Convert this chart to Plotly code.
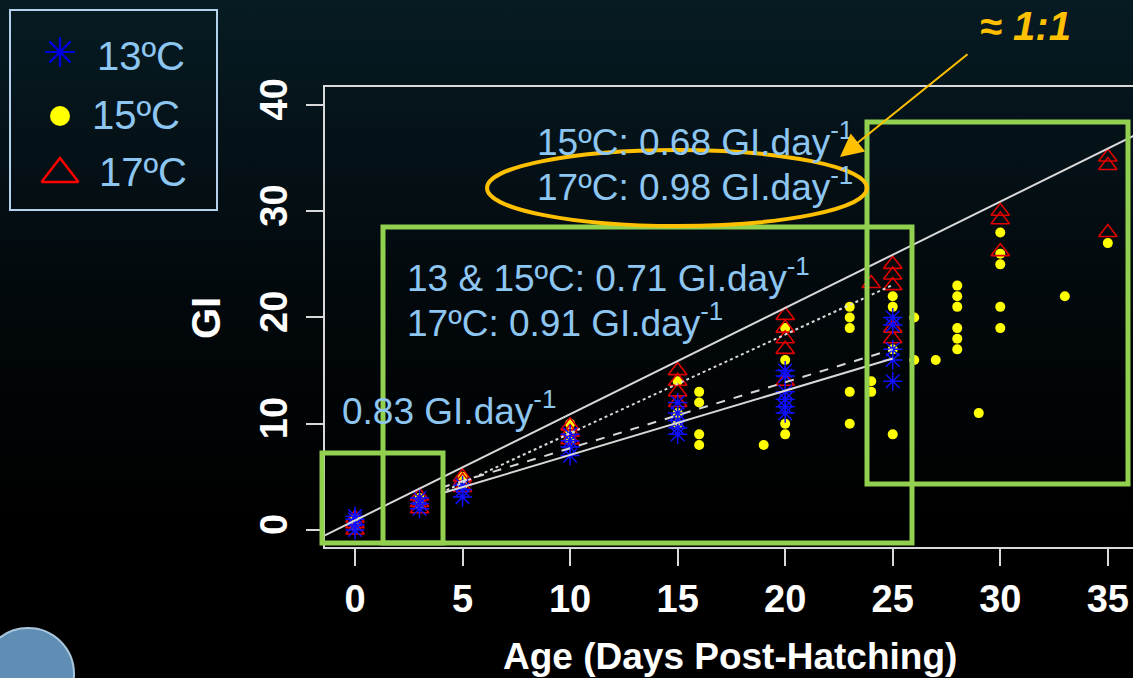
import base64
import plotly.graph_objects as go

W, H = 1133, 678

# ---------------- data ----------------
age_13 = [0, 0, 0, 0, 3, 3, 3, 5, 5, 5, 10, 10, 10, 10,
          15, 15, 15, 15, 15, 20, 20, 20, 20, 20, 20, 25, 25, 25, 25, 25]
gi_13 = [0.0, 0.5, 1.0, 1.3, 2.0, 2.5, 3.0, 3.1, 3.8, 4.2, 7.0, 7.8, 8.4, 9.0,
         9.0, 9.6, 10.3, 11.0, 12.0, 11.0, 11.6, 12.3, 13.0, 14.5, 15.0, 14.0, 16.0, 17.0, 19.3, 20.0]

age_15 = [0, 0, 3, 3, 5, 5, 10, 10, 10, 15, 15, 15, 16, 16, 16, 16, 19,
          20, 20, 20, 20, 23, 23, 23, 23, 23, 24, 24, 25, 25, 25, 25, 26, 26, 27,
          28, 28, 28, 28, 28, 28, 29, 30, 30, 30, 30, 30, 33, 35]
gi_15 = [0.4, 1.0, 2.4, 3.0, 4.2, 5.0, 8.5, 9.3, 10.0, 10.0, 11.0, 14.0, 8.0, 9.0, 12.0, 13.0, 8.0,
         9.0, 10.0, 16.0, 19.0, 10.0, 13.0, 19.0, 20.0, 21.0, 13.0, 14.0, 9.0, 17.0, 21.0, 22.0, 16.0, 20.0, 16.0,
         17.0, 18.0, 19.0, 21.0, 22.0, 23.0, 11.0, 19.0, 21.0, 25.0, 26.0, 28.0, 22.0, 27.0]

age_17 = [0, 0, 0, 3, 3, 3, 5, 5, 5, 10, 10, 10, 15, 15, 15, 15,
          20, 20, 20, 20, 20, 24, 25, 25, 25, 25, 25, 30, 30, 30, 35, 35, 35]
gi_17 = [0.0, 0.6, 1.1, 2.0, 2.6, 3.2, 4.0, 4.6, 5.0, 8.5, 9.2, 9.8, 12.0, 13.0, 14.0, 15.0,
         14.0, 17.0, 18.0, 19.0, 20.2, 23.2, 18.0, 19.0, 23.0, 24.0, 25.0, 26.2, 29.2, 30.0, 28.0, 34.3, 35.1]

# fitted growth lines (GI = intercept + slope * age)
fit_intercept = [0.9, -0.2, 1.5, 1.01]
fit_slope = [1.0, 0.93, 0.62, 0.605]
fit_age_from = [-1.4, 4, 4, 4]
fit_age_to = [36.4, 25, 25, 25]
fit_dash = ["solid", "dot", "dash", "solid"]

x_ticks = [0, 5, 10, 15, 20, 25, 30, 35]
y_ticks = [0, 10, 20, 30, 40]
legend_labels = ["13ºC", "15ºC", "17ºC"]

# ---------------- layout geometry (pixels) ----------------
PL, PR, PT, PB = 325, 1133, 87, 547
X_RANGE = [-1.395, 36.17]
Y_RANGE = [-1.6, 41.69]

BOLD = "Liberation Sans, Arial, sans-serif"
SANS = "Liberation Sans, Arial, sans-serif"
LBLUE = "#8ec6f2"
GREEN = "#92d050"
ORANGE = "#ffc000"
AXC = "#d9d9d9"

fig = go.Figure()

# data points
fig.add_trace(go.Scatter(x=age_15, y=gi_15, mode="markers", name="15ºC",
                         marker=dict(symbol="circle", size=10, color="#ffff00", line=dict(width=0)),
                         showlegend=False))
fig.add_trace(go.Scatter(x=age_17, y=gi_17, mode="markers", name="17ºC",
                         marker=dict(symbol="triangle-up-open", size=16, color="#e00000",
                                     line=dict(width=1.6, color="#e00000")),
                         showlegend=False))
fig.add_trace(go.Scatter(x=age_13, y=gi_13, mode="markers", name="13ºC",
                         marker=dict(symbol="asterisk-open", size=16, color="#1010ff",
                                     line=dict(width=1.5, color="#1010ff")),
                         showlegend=False))

# fitted lines
for a, b, x0, x1, d in zip(fit_intercept, fit_slope, fit_age_from, fit_age_to, fit_dash):
    xs = [x0, x1]
    ys = [a + b * v for v in xs]
    fig.add_trace(go.Scatter(x=xs, y=ys, mode="lines", showlegend=False,
                             line=dict(color="#d8d8d8", width=2, dash=d)))

# legend symbols on a full-figure pixel overlay axis
leg_x = [60, 60, 60]
leg_y = [52, 116, 174]
fig.add_trace(go.Scatter(x=[leg_x[0]], y=[leg_y[0]], xaxis="x2", yaxis="y2", mode="markers",
                         showlegend=False, cliponaxis=False,
                         marker=dict(symbol="asterisk-open", size=25, color="#0000e0",
                                     line=dict(width=2.2, color="#0000e0"))))
fig.add_trace(go.Scatter(x=[leg_x[1]], y=[leg_y[1]], xaxis="x2", yaxis="y2", mode="markers",
                         showlegend=False, cliponaxis=False,
                         marker=dict(symbol="circle", size=20, color="#ffff00")))
fig.add_trace(go.Scatter(x=[leg_x[2]], y=[leg_y[2]], xaxis="x2", yaxis="y2", mode="markers",
                         showlegend=False, cliponaxis=False,
                         marker=dict(symbol="triangle-up-open", size=32, color="#ff0000",
                                     line=dict(width=2.5, color="#ff0000"))))

shapes = []
# legend box
shapes.append(dict(type="rect", xref="x2", yref="y2", x0=10, y0=10, x1=217, y1=210,
                   line=dict(color="#b4d2ee", width=2)))
# green boxes
for x0, y0, x1, y1 in [(322, 453, 443, 543), (383, 227, 912, 543), (867, 122, 1128, 484)]:
    shapes.append(dict(type="rect", xref="x2", yref="y2", x0=x0, y0=y0, x1=x1, y1=y1,
                       line=dict(color=GREEN, width=5), layer="above"))
# orange ellipse
shapes.append(dict(type="circle", xref="x2", yref="y2", x0=487, y0=150, x1=867, y1=226,
                   line=dict(color=ORANGE, width=4)))
# globe logo (bottom-left)
shapes.append(dict(type="circle", xref="x2", yref="y2", x0=-18, y0=628, x1=74, y1=720,
                   fillcolor="#5f8db3", line=dict(color="#a9c6dc", width=2), layer="below"))

ann = []
def txt(x, y, s, size, color, family=SANS, xanchor="left", angle=0, weight="normal", style="normal"):
    ann.append(dict(x=x, y=y, xref="x2", yref="y2", text=s, showarrow=False,
                    xanchor=xanchor, yanchor="middle", textangle=angle,
                    font=dict(family=family, size=size, color=color, weight=weight, style=style)))

txt(535, 139, "15ºC: 0.68 GI.day<sup>-1</sup>", 37, LBLUE)
txt(535, 184, "17ºC: 0.98 GI.day<sup>-1</sup>", 37, LBLUE)
txt(405, 275, "13 &amp; 15ºC: 0.71 GI.day<sup>-1</sup>", 37, LBLUE)
txt(405, 320, "17ºC: 0.91 GI.day<sup>-1</sup>", 37, LBLUE)
txt(340, 408, "0.83 GI.day<sup>-1</sup>", 37, LBLUE)
txt(978, 26, "≈ 1:1", 40, ORANGE, weight="bold", style="italic")
# legend labels
txt(95, 56, legend_labels[0], 40, LBLUE)
txt(90, 115, legend_labels[1], 40, LBLUE)
txt(97, 172, legend_labels[2], 40, LBLUE)
# axis titles
txt(730, 656, "Age (Days Post-Hatching)", 37, "#ffffff", family=BOLD, xanchor="center", weight="bold")
txt(206, 318, "GI", 40, "#ffffff", family=BOLD, xanchor="center", angle=-90, weight="bold")

# arrow
ann.append(dict(x=840, y=157, ax=969, ay=53, xref="x2", yref="y2", axref="x2", ayref="y2",
                text="", showarrow=True, arrowhead=2, arrowsize=2.3, arrowwidth=2,
                arrowcolor=ORANGE, standoff=0))

svg = (f'<svg xmlns="http://www.w3.org/2000/svg" width="{W}" height="{H}" preserveAspectRatio="none">'
       '<defs><linearGradient id="g" x1="0" y1="0" x2="0" y2="1">'
       '<stop offset="0" stop-color="#071b23"/><stop offset="0.45" stop-color="#02080b"/>'
       '<stop offset="0.75" stop-color="#000000"/><stop offset="1" stop-color="#000000"/>'
       '</linearGradient></defs><rect width="100%" height="100%" fill="url(#g)"/></svg>')
bg_src = "data:image/svg+xml;base64," + base64.b64encode(svg.encode()).decode()

fig.update_layout(
    width=W, height=H,
    margin=dict(l=0, r=0, t=0, b=0),
    paper_bgcolor="#000000", plot_bgcolor="rgba(0,0,0,0)",
    images=[dict(source=bg_src, xref="paper", yref="paper", x=0, y=1, sizex=1, sizey=1,
                 sizing="stretch", layer="below", xanchor="left", yanchor="top")],
    xaxis=dict(domain=[PL / W, PR / W], range=X_RANGE, tickvals=x_ticks,
               ticktext=[str(v) for v in x_ticks], showgrid=False, zeroline=False,
               showline=True, linecolor=AXC, linewidth=2, mirror=True,
               ticks="outside", ticklen=17, tickwidth=2, tickcolor=AXC,
               ticklabelstandoff=0, ticklabeloverflow="allow",
               tickfont=dict(family=BOLD, size=38, color="#ffffff", weight="bold"),
               anchor="y", automargin=False),
    yaxis=dict(domain=[(H - PB) / H, (H - PT) / H], range=Y_RANGE, tickvals=y_ticks,
               ticktext=[str(v) for v in y_ticks], showgrid=False, zeroline=False,
               showline=True, linecolor=AXC, linewidth=2,
               ticks="outside", ticklen=17, tickwidth=2, tickcolor=AXC, tickangle=-90,
               ticklabelstandoff=4, ticklabeloverflow="allow",
               tickfont=dict(family=BOLD, size=38, color="#ffffff", weight="bold"),
               anchor="x", automargin=False),
    xaxis2=dict(domain=[0, 1], range=[0, W], visible=False, anchor="y2", fixedrange=True),
    yaxis2=dict(domain=[0, 1], range=[H, 0], visible=False, anchor="x2", fixedrange=True),
    shapes=shapes,
    annotations=ann,
    showlegend=False,
)

fig.write_html("out.html")
